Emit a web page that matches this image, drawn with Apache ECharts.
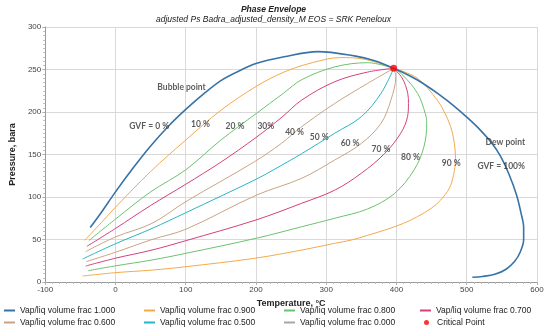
<!DOCTYPE html>
<html>
<head>
<meta charset="utf-8">
<script src="https://cdn.jsdelivr.net/npm/echarts@6/dist/echarts.min.js"></script>
<style>html,body{margin:0;padding:0;background:#fff}#c{width:547px;height:335px}</style>
</head>
<body>
<div id="c"></div>
<script>
// Temperature (°C), Pressure (bara)
const envelope = [[-36,64],[-20,82],[0,106],[25,134],[50,160],[75,183],[100,203],[125,221],[150,237],[175,248],[200,257],[240,265],[288,271],[340,266],[370,260],[396,251.4],[420,242],[439,233],[460,221],[482,207],[500,194],[519,179],[535,164],[548,148],[560,127],[571,102],[577,82],[581,64],[581,50],[576,35],[568,24],[556,15],[540,9],[522,6.5],[508,5.5]];
const gvf10 = [[-44,49],[-20,70],[0,88],[50,130],[100,167],[150,202],[200,230],[240,247],[280,258],[320,264],[355,262],[396,251.4]];
const gvf90 = [[-47,7],[0,11],[52,14],[100,18],[199,28],[265,37.6],[312,45.5],[336,49.4],[359,55],[383,61],[410,69],[430,77],[450,87],[463,96.5],[475,110],[481,125],[484,145],[482,165],[477,183],[468,200],[458,214],[430,239.6],[396,251.4]];
const gvf20 = [[-38,48.6],[0,74],[50,106],[100,132],[150,167],[200,198],[239,222],[265,238],[312,253],[359,258],[396,251.4]];
const gvf80 = [[-39,13.3],[0,19],[52,25.9],[100,33.7],[200,51.4],[265,65],[312,75],[359,86],[397,104],[425,131.8],[439,159],[443,186.7],[441,198],[430,222],[407,245],[396,251.4]];
const gvf30 = [[-40.6,42],[0,63],[50,90],[100,115],[150,141],[200,170],[237,194],[265,214],[312,235.6],[359,247],[396,251.4]];
const gvf70 = [[-42.5,18.8],[0,28],[52,37.6],[100,48.6],[200,73],[265,92.6],[312,108],[350,128],[383,151],[406,175],[415.7,194.5],[417,210],[416,222],[408,240],[396,251.4]];
const gvf40 = [[-42.5,35.7],[0,53],[52,69],[100,94.5],[198,141.6],[236,163],[265,182.7],[312,210],[359,233.7],[396,251.4]];
const gvf60 = [[-41.6,24],[0,35],[52,50],[100,62],[200,102],[265,122],[312,143.5],[350,163],[378,186.7],[392,214],[399,241.5],[396,251.4]];
const gvf50 = [[-47,27],[0,45],[52,63],[100,81.5],[200,120.8],[225,132],[265,151],[312,175],[350,194.5],[378,222],[396,251.4]];
const gvf0liq = [];
const criticalPoint = [[396,251.4]];
const annotations = [
  [94,229,'Bubble point'],[48,183.5,'GVF = 0 %'],[121,186,'10 %'],[170,183,'20 %'],[214,183.5,'30%'],
  [255,176,'40 %'],[290,170.6,'50 %'],[334,163.5,'60 %'],[378,156.5,'70 %'],[420,147,'80 %'],
  [478,140,'90 %'],[555,164.7,'Dew point'],[549,136.5,'GVF = 100%']
];
const xTicks = {min:-100,max:600,interval:100};
const yTicks = {min:0,max:300,interval:50};
const names = ['Vap/liq volume frac 1.000','Vap/liq volume frac 0.900','Vap/liq volume frac 0.800','Vap/liq volume frac 0.700',
  'Vap/liq volume frac 0.600','Vap/liq volume frac 0.500','Vap/liq volume frac 0.000','Critical Point'];
const colors = {blue:'#3873a8',orange:'#f4a94a',green:'#6cc26c',crimson:'#d4407a',tan:'#c9a383',teal:'#28b5c4',gray:'#a6a6a6',red:'#ff0000'};

function line(name,data,color,w){
  return {type:'line',name:name,data:data,smooth:0.35,symbol:'none',showSymbol:false,
    lineStyle:{color:color,width:w||1},itemStyle:{color:color},z:w?4:3,animation:false};
}
const chart = echarts.init(document.getElementById('c'),null,{renderer:'canvas'});
function leg(name,left,top,dot){
  return {left:left,top:top,data:[name],itemWidth:dot?5:11,itemHeight:dot?5:2,icon:dot?'circle':'rect',
    itemGap:0,padding:0,selectedMode:false,
    textStyle:{fontSize:8.5,color:'#222',fontFamily:'Liberation Sans',padding:[0,0,0,dot?3:0]}};
}
const colLeft = [4,144,284,420];
const rowTop = [306,318];
chart.setOption({
  animation:false,
  title:{text:'Phase Envelope',subtext:'adjusted Ps Badra_adjusted_density_M EOS = SRK Peneloux',left:'center',top:0,itemGap:1,
    textStyle:{fontSize:8.5,fontStyle:'italic',fontWeight:'bold',color:'#222',fontFamily:'Liberation Sans'},
    subtextStyle:{fontSize:8.5,fontStyle:'italic',color:'#222',fontFamily:'Liberation Sans'}},
  legend:[
    leg(names[0],colLeft[0],rowTop[0]),leg(names[1],colLeft[1],rowTop[0]),
    leg(names[2],colLeft[2],rowTop[0]),leg(names[3],colLeft[3],rowTop[0]),
    leg(names[4],colLeft[0],rowTop[1]),leg(names[5],colLeft[1],rowTop[1]),
    leg(names[6],colLeft[2],rowTop[1]),leg(names[7],colLeft[3]+4,rowTop[1],true)
  ],
  grid:{left:42,right:10,top:27,bottom:53},
  xAxis:{type:'value',min:xTicks.min,max:xTicks.max,interval:xTicks.interval,
    name:'Temperature, °C',nameLocation:'middle',nameGap:13,
    nameTextStyle:{fontSize:9,fontWeight:'bold',color:'#222',fontFamily:'Liberation Sans'},
    axisLine:{onZero:false,lineStyle:{color:'#9a9a9a'}},axisTick:{show:true,length:3,lineStyle:{color:'#b0b0b0'}},
    minorTick:{show:true,splitNumber:10,length:2,lineStyle:{color:'#b8b8b8'}},
    axisLabel:{fontSize:8,color:'#444',margin:4,fontFamily:'Liberation Sans'},
    splitLine:{lineStyle:{color:'#d9d9d9'}}},
  yAxis:{type:'value',min:yTicks.min,max:yTicks.max,interval:yTicks.interval,
    name:'Pressure, bara',nameLocation:'middle',nameGap:28,
    nameTextStyle:{fontSize:9,fontWeight:'bold',color:'#222',fontFamily:'Liberation Sans'},
    axisLine:{show:true,onZero:false,lineStyle:{color:'#9a9a9a'}},axisTick:{show:true,length:3,lineStyle:{color:'#b0b0b0'}},
    minorTick:{show:true,splitNumber:10,length:2,lineStyle:{color:'#b8b8b8'}},
    axisLabel:{fontSize:8,color:'#444',margin:4,fontFamily:'Liberation Sans'},
    splitLine:{lineStyle:{color:'#d9d9d9'}}},
  series:[
    line(names[6],gvf0liq,colors.gray),
    line(names[1],gvf10,colors.orange),
    line(names[1],gvf90,colors.orange),
    line(names[2],gvf20,colors.green),
    line(names[2],gvf80,colors.green),
    line(names[3],gvf30,colors.crimson),
    line(names[3],gvf70,colors.crimson),
    line(names[4],gvf40,colors.tan),
    line(names[4],gvf60,colors.tan),
    line(names[5],gvf50,colors.teal),
    line(names[0],envelope,colors.blue,1.6),
    {type:'scatter',name:names[7],data:criticalPoint,symbolSize:7,itemStyle:{color:colors.red},z:6},
    {type:'scatter',name:'labels',data:annotations.map(a=>({value:[a[0],a[1]],label:{formatter:a[2]}})),
      symbolSize:0,silent:true,z:7,
      label:{show:true,position:'inside',fontSize:8.5,fontWeight:'bold',color:'#333',fontFamily:'Lato'}}
  ]
});
</script>
</body>
</html>
